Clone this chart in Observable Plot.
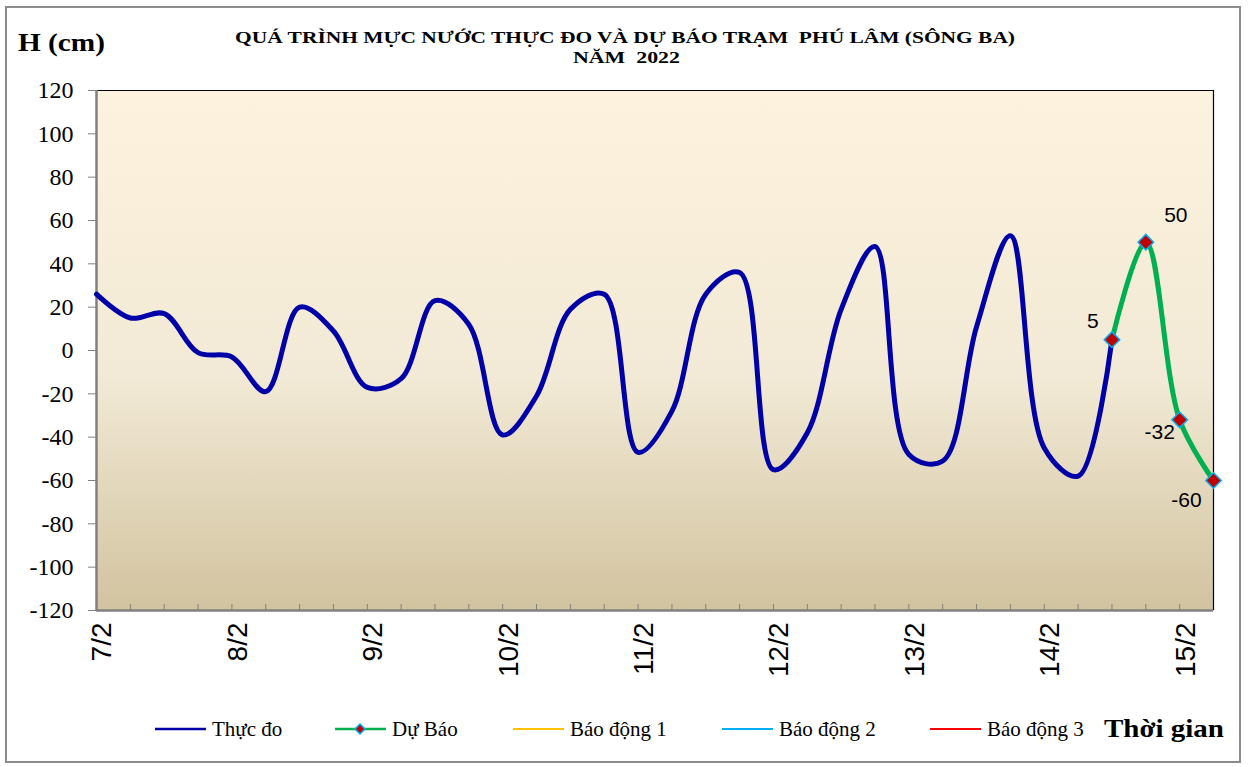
<!DOCTYPE html>
<html><head><meta charset="utf-8">
<script src="https://cdn.jsdelivr.net/npm/d3@7"></script>
<script src="https://cdn.jsdelivr.net/npm/@observablehq/plot@0.6"></script>
<style>body{margin:0;background:#fff}</style>
</head><body><div id="chart"></div>
<script>
// ---- data ----
const startDate = "2022-02-07T00:00:00Z";
const stepHours = 6;
const observed = [26, 15, 17, -1, -3, -19, 20, 9, -17, -13, 23, 12, -39, -21, 19, 26, -47, -28, 26, 36, -55, -38, 19, 48, -48, -51, 11, 53, -45, -58, 5];
const forecast = [5, 50, -32, -60];
const forecastStart = 30; // index of first forecast step
const dayLabels = ["7/2", "8/2", "9/2", "10/2", "11/2", "12/2", "13/2", "14/2", "15/2"];
const yTicks = [-120, -100, -80, -60, -40, -20, 0, 20, 40, 60, 80, 100, 120];
const legendLabels = ["Thực đo", "Dự Báo", "Báo động 1", "Báo động 2", "Báo động 3"];
const titleLines = ["QUÁ TRÌNH MỰC NƯỚC THỰC ĐO VÀ DỰ BÁO TRẠM  PHÚ LÂM (SÔNG BA)", "NĂM  2022"];
const yTitle = "H (cm)";
const xTitle = "Thời gian";

// ---- derived ----
const t = i => new Date(Date.parse(startDate) + i * stepHours * 3600e3);
const obsData = observed.map((v, i) => ({time: t(i), value: v}));
const fcData = forecast.map((v, i) => ({time: t(forecastStart + i), value: v}));
const nSteps = forecastStart + forecast.length - 1;
const minorTicks = d3.range(nSteps + 1).map(t);
const dayTicks = dayLabels.map((_, i) => t(i * 24 / stepHours));
const labelByTime = new Map(dayTicks.map((d, i) => [+d, dayLabels[i]]));

const serif = "Liberation Serif";
const sans = "Liberation Sans";

const plot = Plot.plot({
  width: 1253, height: 767,
  marginLeft: 96, marginRight: 40, marginTop: 90, marginBottom: 157,
  style: {background: "transparent", overflow: "visible"},
  x: {type: "utc", domain: [t(0), t(nSteps)]},
  y: {domain: [-120, 120]},
  marks: [
    Plot.frame({fill: "url(#plotbg)", stroke: null}),
    Plot.axisY({ticks: yTicks, tickSize: 8, text: null, stroke: "#808080", label: null}),
    Plot.text(yTicks, {y: d => d, text: d => String(d), frameAnchor: "left", textAnchor: "end", dx: -23, fontFamily: serif, fontSize: 24, fill: "#000"}),
    Plot.axisX({ticks: minorTicks, tickSize: 6, dy: -6, text: null, stroke: "#808080", label: null}),
    Plot.axisX({ticks: dayTicks, tickFormat: d => labelByTime.get(+d), tickSize: 0, tickPadding: 12, tickRotate: -90, dx: 6, fontFamily: sans, fontSize: 28, fill: "#000", label: null}),
    Plot.ruleY([120], {stroke: "#000", strokeWidth: 1.2}),
    Plot.ruleX([t(nSteps)], {stroke: "#000", strokeWidth: 1.2}),
    Plot.ruleX([t(0)], {stroke: "#808080", strokeWidth: 2.5}),
    Plot.ruleY([-120], {stroke: "#808080", strokeWidth: 2.5}),
    Plot.line(obsData, {x: "time", y: "value", stroke: "#0000a8", strokeWidth: 5, curve: "catmull-rom"}),
    Plot.line(fcData, {x: "time", y: "value", stroke: "#00b050", strokeWidth: 5, curve: "catmull-rom"}),
    Plot.dot(fcData, {x: "time", y: "value", symbol: "diamond2", r: 7, fill: "#c00000", stroke: "#00b0f0", strokeWidth: 1.5}),
    Plot.text(fcData.slice(0, 1), {x: "time", y: "value", text: d => String(d.value), dx: -19, dy: -18, fontFamily: sans, fontSize: 21, fill: "#000"}),
    Plot.text(fcData.slice(1, 2), {x: "time", y: "value", text: d => String(d.value), dx: 30, dy: -27, fontFamily: sans, fontSize: 21, fill: "#000"}),
    Plot.text(fcData.slice(2, 3), {x: "time", y: "value", text: d => String(d.value), dx: -20, dy: 12, fontFamily: sans, fontSize: 21, fill: "#000"}),
    Plot.text(fcData.slice(3, 4), {x: "time", y: "value", text: d => String(d.value), dx: -27, dy: 20, fontFamily: sans, fontSize: 21, fill: "#000"})
  ]
});

const svg = d3.select(plot);
const defs = svg.insert("defs", ":first-child");
const grad = defs.append("linearGradient").attr("id", "plotbg").attr("x1", 0).attr("y1", 0).attr("x2", 0).attr("y2", 1);
grad.append("stop").attr("offset", "0%").attr("stop-color", "#fdf2dd");
grad.append("stop").attr("offset", "55%").attr("stop-color", "#f2ead6");
grad.append("stop").attr("offset", "100%").attr("stop-color", "#d2c39f");

// outer border
svg.insert("rect", "defs + *").attr("x", 6).attr("y", 7).attr("width", 1234).attr("height", 755)
  .attr("fill", "#fff").attr("stroke", "#8c8c8c").attr("stroke-width", 2);

// titles
const tg = svg.append("g").attr("font-family", serif).attr("font-weight", "bold").attr("fill", "#000").attr("text-anchor", "start");
tg.append("text").attr("x", 18).attr("y", 51).attr("font-size", 26).attr("textLength", 87).attr("lengthAdjust", "spacingAndGlyphs").text(yTitle);
tg.append("text").attr("x", 235).attr("y", 43).attr("font-size", 17).attr("textLength", 780).attr("lengthAdjust", "spacingAndGlyphs").text(titleLines[0]);
tg.append("text").attr("x", 573).attr("y", 63).attr("font-size", 17).attr("textLength", 107).attr("lengthAdjust", "spacingAndGlyphs").text(titleLines[1]);
tg.append("text").attr("x", 1104).attr("y", 737).attr("font-size", 26).attr("textLength", 120).attr("lengthAdjust", "spacingAndGlyphs").text(xTitle);

// legend
const legendColors = ["#0000a8", "#00b050", "#ffc000", "#00b0f0", "#ff0000"];
const legendX = [155, 335, 513, 722, 930];
const lg = svg.append("g").attr("font-family", serif).attr("font-size", 21).attr("fill", "#000").attr("text-anchor", "start");
legendLabels.forEach((lab, i) => {
  const x0 = legendX[i];
  lg.append("line").attr("x1", x0).attr("x2", x0 + 51).attr("y1", 729).attr("y2", 729)
    .attr("stroke", legendColors[i]).attr("stroke-width", i < 2 ? 2.5 : 2);
  if (i === 1) {
    lg.append("path").attr("d", d3.symbol(d3.symbolSquare, 50)()).attr("transform", `translate(${x0 + 25},729) rotate(45)`)
      .attr("fill", "#c00000").attr("stroke", "#00b0f0").attr("stroke-width", 1.5);
  }
  lg.append("text").attr("x", x0 + 57).attr("y", 736).text(lab);
});

document.getElementById("chart").appendChild(plot);
</script>
</body></html>
